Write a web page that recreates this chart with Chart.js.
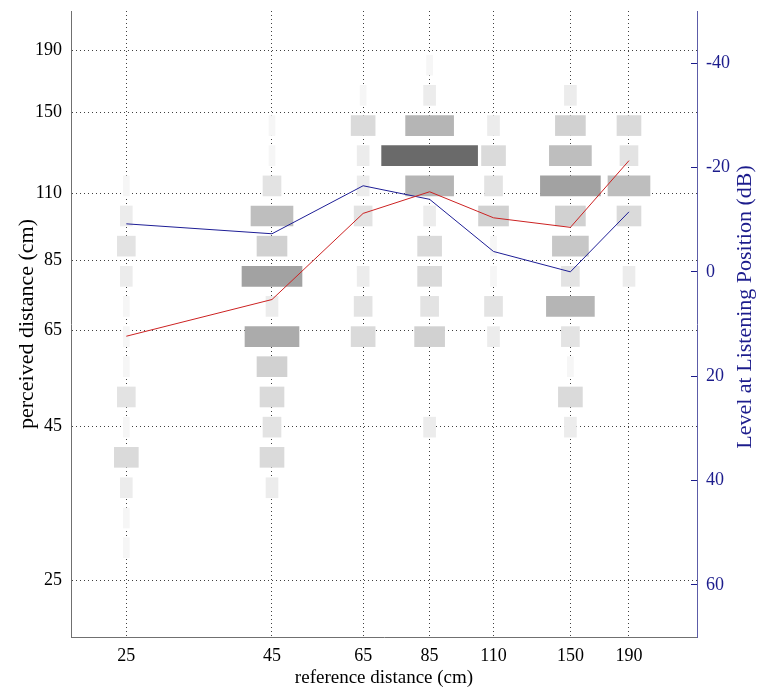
<!DOCTYPE html>
<html>
<head>
<meta charset="utf-8">
<script src="https://cdn.jsdelivr.net/npm/chart.js@4.4.1/dist/chart.umd.min.js"></script>
<style>
    html, body { margin: 0; padding: 0; background: #fff; }
    #wrap { width: 761px; height: 694px; }
</style>
</head>
<body>
<div id="wrap"><canvas id="chart" width="761" height="694"></canvas></div>
<script>
(function () {
    'use strict';

    // ─── Data ─────────────────────────────────────────────────────────────────
    // reference distances (cm), one column of boxes each
    const refDist = [25, 45, 65, 85, 110, 150, 190];

    // perceived distance answer levels (cm)
    const respLevels = [28.3, 31.7, 35.6, 40, 44.9, 50.4, 56.6, 63.5, 71.3, 80, 89.8, 100.8, 113.1, 127, 142.5, 160, 179.6];

    // answer counts per level (same order as respLevels), one list per reference distance
    const count25  = [1, 1, 2, 4, 1, 3, 1, 1, 1, 2, 3, 2, 1, 0, 0, 0, 0];
    const count45  = [0, 0, 2, 4, 3, 4, 5, 9, 2, 10, 5, 7, 3, 1, 1, 0, 0];
    const count65  = [0, 0, 0, 0, 0, 0, 0, 4, 3, 2, 0, 3, 2, 2, 4, 1, 0];
    const count85  = [0, 0, 0, 0, 2, 0, 0, 5, 3, 4, 4, 2, 8, 16, 8, 2, 1];
    const count110 = [0, 0, 0, 0, 0, 0, 0, 2, 3, 1, 1, 5, 3, 4, 2, 0, 0];
    const count150 = [0, 0, 0, 0, 2, 4, 1, 3, 8, 3, 6, 5, 10, 7, 5, 2, 0];
    const count190 = [0, 0, 0, 0, 0, 0, 0, 0, 0, 2, 0, 4, 7, 3, 4, 0, 0];
    const counts = [count25, count45, count65, count85, count110, count150, count190];

    // mean perceived distance (cm) and level at listening position (dB)
    const perceivedMean = [63.6, 73.2, 101.8, 110.6, 100.1, 96.5, 124.6];
    const levelDb       = [-9.2, -7.3, -16.5, -13.9, -3.9, 0, -11.5];

    const xTicks  = [25, 45, 65, 85, 110, 150, 190];
    const yTicks  = [25, 45, 65, 85, 110, 150, 190];
    const dbTicks = [-40, -20, 0, 20, 40, 60];

    const RIGHT_TITLE = 'Level at Listening Position (dB)';

    // ─── Styling helpers ──────────────────────────────────────────────────────
    const FONT      = 'Liberation Serif';
    const HALF_LOG  = 0.0121;          // half box width per answer, in ln(cm)
    const GRID      = 'rgba(0,0,0,0.75)';
    const BLUE_TXT  = '#1c1c8c';

    function shade(n) {
        const g = Math.round(255 - 9.3 * n);
        return 'rgb(' + g + ',' + g + ',' + g + ')';
    }

    // one floating horizontal bar per (reference, level) with answers
    function buildBoxes() {
        const out = [];
        refDist.forEach((ref, i) => {
            counts[i].forEach((n, j) => {
                if (!n) return;
                const f = Math.exp(n * HALF_LOG);
                out.push({ x: [ref / f, ref * f], y: respLevels[j], n: n });
            });
        });
        return out;
    }

    const fixTicks = list => scale => { scale.ticks = list.map(v => ({ value: v })); };
    const noPad = scale => { scale.paddingTop = 0; scale.paddingBottom = 0; scale.paddingLeft = 0; scale.paddingRight = 0; };

    // right axis title reads bottom-to-top (Chart.js would turn it the other way)
    const rightTitle = {
        id: 'rightTitle',
        afterDraw(chart) {
            const s = chart.scales.y2;
            const ctx = chart.ctx;
            ctx.save();
            ctx.translate(s.right - 16, (s.top + s.bottom) / 2 - 17);
            ctx.rotate(-Math.PI / 2);
            ctx.font = '22px "' + FONT + '"';
            ctx.fillStyle = BLUE_TXT;
            ctx.textAlign = 'center';
            ctx.textBaseline = 'middle';
            ctx.fillText(RIGHT_TITLE, 0, 0);
            ctx.restore();
        },
    };

    Chart.defaults.font.family = FONT;
    Chart.defaults.font.size   = 18;
    Chart.defaults.color       = '#000';

    new Chart(document.getElementById('chart'), {
        type: 'line',
        plugins: [rightTitle],
        data: {
            datasets: [
                {
                    type: 'line',
                    label: 'perceived',
                    data: refDist.map((x, i) => ({ x: x, y: perceivedMean[i] })),
                    borderColor: '#cc2222',
                    borderWidth: 1,
                    pointRadius: 0,
                    tension: 0,
                    xAxisID: 'x',
                    yAxisID: 'y',
                    order: 0,
                },
                {
                    type: 'line',
                    label: 'level',
                    data: refDist.map((x, i) => ({ x: x, y: levelDb[i] })),
                    borderColor: '#1e1e96',
                    borderWidth: 1,
                    pointRadius: 0,
                    tension: 0,
                    xAxisID: 'x',
                    yAxisID: 'y2',
                    order: 0,
                },
                {
                    type: 'bar',
                    label: 'answers',
                    indexAxis: 'y',
                    data: buildBoxes(),
                    backgroundColor: ctx => shade(ctx.raw ? ctx.raw.n : 0),
                    borderWidth: 0,
                    barThickness: 20,
                    xAxisID: 'x',
                    yAxisID: 'y',
                    order: 1,
                },
            ],
        },
        options: {
            responsive: false,
            animation: false,
            events: [],
            layout: { padding: { top: 11, left: 0, right: 0, bottom: 0 } },
            plugins: { legend: { display: false }, tooltip: { enabled: false } },
            scales: {
                x: {
                    type: 'logarithmic',
                    position: 'bottom',
                    min: 20,
                    max: 250,
                    offset: false,
                    afterBuildTicks: fixTicks(xTicks),
                    afterFit: s => { s.height = 57; noPad(s); },
                    ticks: { callback: v => String(v), autoSkip: false, maxRotation: 0, padding: 8, color: '#000' },
                    grid: { offset: false, color: GRID, lineWidth: 1, drawTicks: false },
                    border: { display: true, color: '#707070', width: 1, dash: [1, 3] },
                    title: { display: true, text: 'reference distance (cm)', color: '#000', font: { size: 19 }, padding: { top: 0, bottom: 5 } },
                },
                y: {
                    type: 'logarithmic',
                    position: 'left',
                    min: 20.1,
                    max: 221,
                    offset: false,
                    afterBuildTicks: fixTicks(yTicks),
                    afterFit: s => { s.width = 71; noPad(s); },
                    ticks: { callback: v => String(v), autoSkip: false, padding: 9, color: '#000' },
                    grid: { offset: false, color: GRID, lineWidth: 1, drawTicks: false },
                    border: { display: true, color: '#707070', width: 1, dash: [1, 3] },
                    title: { display: true, text: 'perceived distance (cm)', color: '#000', font: { size: 22 }, padding: { top: 14, bottom: 0 } },
                },
                y2: {
                    type: 'linear',
                    position: 'right',
                    reverse: true,
                    min: -50,
                    max: 70,
                    afterBuildTicks: fixTicks(dbTicks),
                    afterFit: s => { s.width = 64; noPad(s); },
                    ticks: { autoSkip: false, padding: 15, color: BLUE_TXT },
                    grid: { drawOnChartArea: false, drawTicks: true, tickLength: -6, tickColor: BLUE_TXT, tickWidth: 1 },
                    border: { display: true, color: '#5c5ca8', width: 1 },
                    title: { display: false },
                },
            },
        },
    });
})();
</script>
</body>
</html>
